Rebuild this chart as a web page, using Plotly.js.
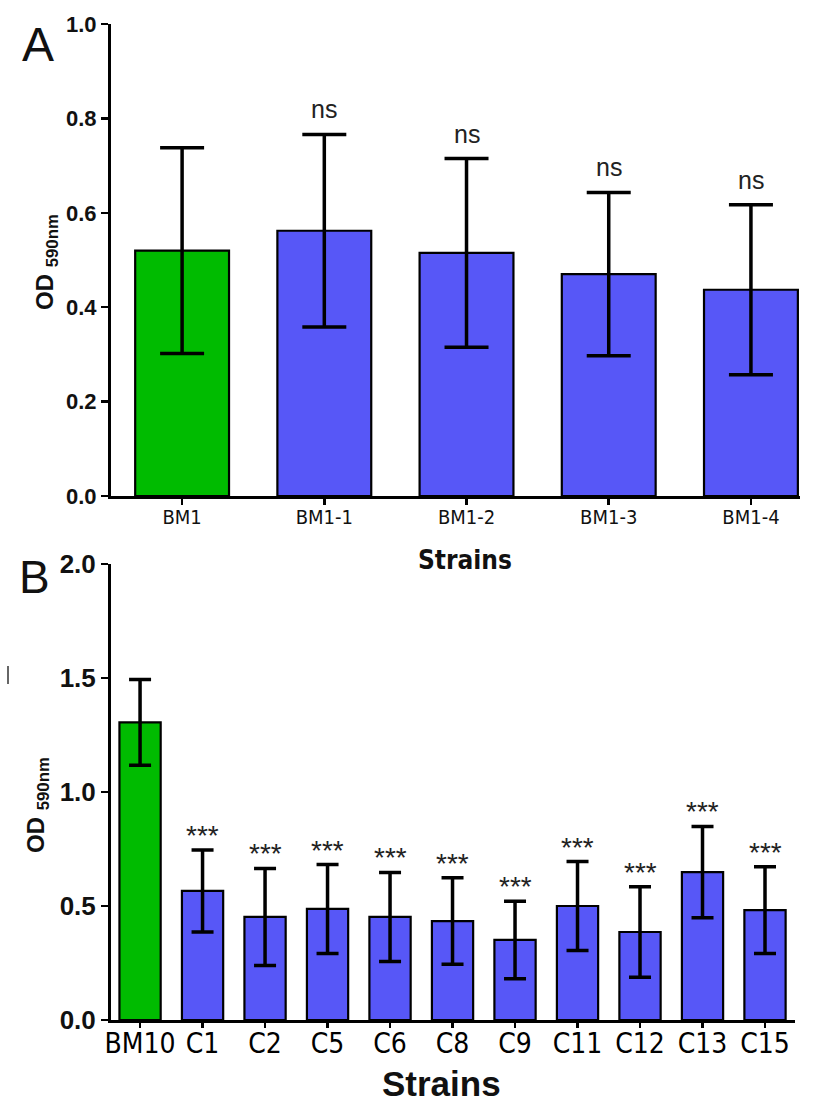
<!DOCTYPE html>
<html>
<head>
<meta charset="utf-8">
<script src="https://cdn.plot.ly/plotly-3.0.1.min.js"></script>
<style>html,body{margin:0;padding:0;background:#fff;}#chart{width:827px;height:1111px;}</style>
</head>
<body>
<div id="chart"></div>
<script>
// Panel A data
var strainsA = ["BM1", "BM1-1", "BM1-2", "BM1-3", "BM1-4"];
var odA = [0.52, 0.562, 0.515, 0.47, 0.437];
var errA = [0.218, 0.204, 0.2, 0.173, 0.18];
var sigA = ["", "ns", "ns", "ns", "ns"];
var colorsA = ["#00BB00", "#5757F7", "#5757F7", "#5757F7", "#5757F7"];

// Panel B data
var strainsB = ["BM10", "C1", "C2", "C5", "C6", "C8", "C9", "C11", "C12", "C13", "C15"];
var odB = [1.305, 0.566, 0.452, 0.487, 0.452, 0.434, 0.351, 0.5, 0.386, 0.649, 0.482];
var errB = [0.188, 0.18, 0.213, 0.195, 0.195, 0.19, 0.17, 0.195, 0.198, 0.2, 0.19];
var sigB = ["", "***", "***", "***", "***", "***", "***", "***", "***", "***", "***"];
var colorsB = ["#00BB00", "#5757F7", "#5757F7", "#5757F7", "#5757F7", "#5757F7", "#5757F7", "#5757F7", "#5757F7", "#5757F7", "#5757F7"];

var W = 827, H = 1111;
function px(x){return x/W;}
function py(y){return 1 - y/H;}

var traces = [
  {type:"bar", x:strainsA, y:odA, xaxis:"x", yaxis:"y", width:0.66,
   marker:{color:colorsA, line:{color:"#000", width:2.2}},
   error_y:{type:"data", array:errA, visible:true, color:"#000", thickness:3.5, width:22},
   hoverinfo:"skip", showlegend:false},
  {type:"bar", x:strainsB, y:odB, xaxis:"x2", yaxis:"y2", width:0.66,
   marker:{color:colorsB, line:{color:"#000", width:2.2}},
   error_y:{type:"data", array:errB, visible:true, color:"#000", thickness:3.5, width:11},
   hoverinfo:"skip", showlegend:false}
];

var narrow = "'DejaVu Sans Condensed', 'Liberation Sans Narrow', 'Liberation Sans', Arial, sans-serif";
var sans = "'Liberation Sans', Arial, sans-serif";
var annotations = [];
for (var i=0;i<strainsA.length;i++){
  if (sigA[i]) annotations.push({x:strainsA[i], y:odA[i]+errA[i], xref:"x", yref:"y", text:sigA[i], showarrow:false,
    xanchor:"center", yanchor:"bottom", yshift:9, font:{family:sans, size:25, color:"#222"}});
}
for (var j=0;j<strainsB.length;j++){
  if (sigB[j]) annotations.push({x:strainsB[j], y:odB[j]+errB[j], xref:"x2", yref:"y2", text:sigB[j], showarrow:false,
    xanchor:"center", yanchor:"bottom", yshift:-3, font:{family:sans, size:28, color:"#222"}});
}
annotations.push(
  {x:px(38), y:py(44), xref:"paper", yref:"paper", xanchor:"center", yanchor:"middle", text:"A", showarrow:false, font:{family:sans, size:48, color:"#111"}},
  {x:px(34), y:py(577), xref:"paper", yref:"paper", xanchor:"center", yanchor:"middle", text:"B", showarrow:false, font:{family:sans, size:46, color:"#111"}},
  {x:px(46), y:py(262), xref:"paper", yref:"paper", xanchor:"center", yanchor:"middle", text:"<b>OD <sub>590nm</sub></b>", textangle:-90, showarrow:false, font:{family:sans, size:24, color:"#111"}},
  {x:px(37), y:py(805), xref:"paper", yref:"paper", xanchor:"center", yanchor:"middle", text:"<b>OD <sub>590nm</sub></b>", textangle:-90, showarrow:false, font:{family:sans, size:24, color:"#111"}},
  {x:px(465), y:py(560), xref:"paper", yref:"paper", xanchor:"center", yanchor:"middle", text:"<b>Strains</b>", showarrow:false, font:{family:narrow, size:26, color:"#111"}},
  {x:px(441), y:py(1083), xref:"paper", yref:"paper", xanchor:"center", yanchor:"middle", text:"<b>Strains</b>", showarrow:false, font:{family:sans, size:35, color:"#111"}}
);

var axisCommon = {showline:true, linecolor:"#000", linewidth:3, ticks:"outside", ticklen:7, tickwidth:2.5, tickcolor:"#000",
  showgrid:false, zeroline:false, fixedrange:true};

var layout = {
  width:W, height:H, margin:{l:0,r:0,t:0,b:0}, paper_bgcolor:"#fff", plot_bgcolor:"#fff",
  showlegend:false,
  xaxis: Object.assign({}, axisCommon, {domain:[px(111), px(800)], anchor:"y", type:"category", range:[-0.5, 4.345],
    ticklen:6, ticklabelstandoff:-5, tickfont:{family:narrow, size:20, color:"#111"}}),
  yaxis: Object.assign({}, axisCommon, {domain:[py(496), py(24)], anchor:"x", range:[0,1], tickvals:[0,0.2,0.4,0.6,0.8,1.0],
    ticktext:["0.0","0.2","0.4","0.6","0.8","1.0"], tickfont:{family:sans, size:22, color:"#111", weight:"bold"}}),
  xaxis2: Object.assign({}, axisCommon, {domain:[py(0)*0+px(111), px(795)], anchor:"y2", type:"category", range:[-0.465, 10.48],
    ticklen:5, ticklabelstandoff:-9, tickfont:{family:narrow, size:28, color:"#000"}}),
  yaxis2: Object.assign({}, axisCommon, {domain:[py(1020), py(564)], anchor:"x2", range:[0,2], tickvals:[0,0.5,1.0,1.5,2.0],
    ticktext:["0.0","0.5","1.0","1.5","2.0"], tickfont:{family:sans, size:26, color:"#111", weight:"bold"}}),
  annotations: annotations,
  shapes:[{type:"line", xref:"paper", yref:"paper", x0:px(8), x1:px(8), y0:py(666), y1:py(684), line:{color:"#333", width:1.5}}]
};

Plotly.newPlot("chart", traces, layout, {displayModeBar:false, staticPlot:true});
</script>
</body>
</html>
